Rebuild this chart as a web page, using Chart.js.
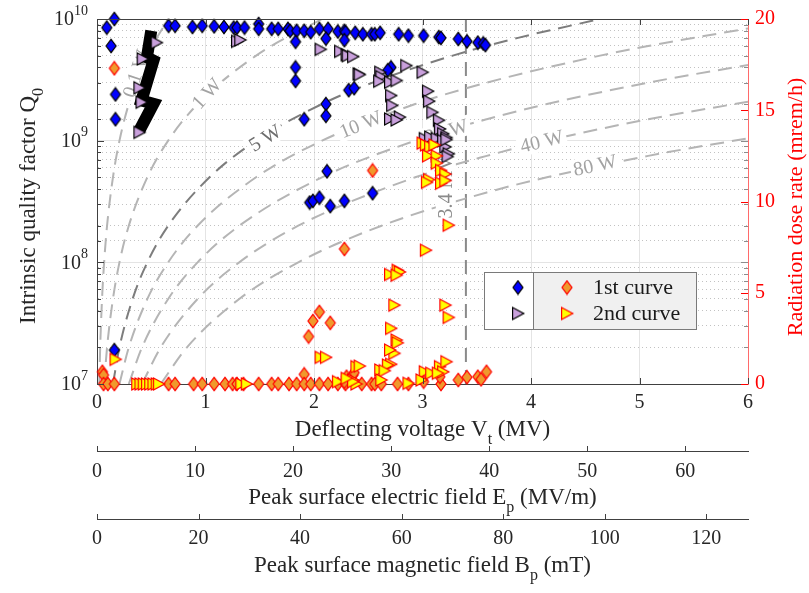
<!DOCTYPE html>
<html lang="en">
<head>
<meta charset="utf-8">
<title>Q0 and radiation vs deflecting voltage</title>
<script src="https://cdn.jsdelivr.net/npm/chart.js@4.4.1/dist/chart.umd.min.js"></script>
<style>
  html, body { margin: 0; padding: 0; background: #ffffff; }
  canvas { display: block; }
</style>
</head>
<body>
<canvas id="chart-q0" width="809" height="593"></canvas>
<script>
// values: [deflecting voltage (MV), Q0] or [MV, mrem/h]
const q0FirstCurve = [
  [0.09, 8.5e9], [0.16, 1.0e10], [0.13, 6.0e9], [0.17, 2.4e9], [0.17, 1.5e9], [0.16, 1.9e7],
  [0.66, 8.8e9], [0.72, 8.8e9], [0.88, 8.6e9], [0.97, 8.8e9], [1.08, 8.7e9], [1.17, 8.6e9],
  [1.26, 8.5e9], [1.29, 8.5e9], [1.36, 8.5e9], [1.49, 9.1e9], [1.49, 8.3e9], [1.61, 8.3e9],
  [1.67, 8.3e9], [1.76, 8.3e9], [1.78, 8.0e9], [1.84, 8.0e9], [1.91, 8.0e9], [1.97, 7.8e9],
  [2.05, 8.3e9], [2.13, 8.3e9], [2.22, 7.9e9], [2.28, 8.0e9], [2.29, 7.8e9], [2.38, 7.7e9],
  [2.45, 7.5e9], [2.53, 7.5e9], [2.56, 7.5e9], [2.61, 7.7e9], [2.78, 7.5e9], [2.87, 7.3e9],
  [3.01, 7.3e9], [3.15, 7.1e9], [3.17, 7.0e9], [3.33, 6.85e9], [3.41, 6.55e9], [3.51, 6.4e9],
  [3.56, 6.3e9], [3.58, 6.1e9],
  [1.83, 6.5e9], [2.11, 6.9e9], [2.28, 6.7e9], [1.83, 4.0e9], [1.83, 3.1e9], [2.32, 2.6e9],
  [2.37, 2.7e9], [2.71, 4.0e9], [2.68, 3.8e9], [2.11, 2.0e9], [2.11, 1.6e9], [1.91, 1.5e9],
  [2.12, 5.6e8], [1.96, 3.1e8], [1.99, 3.2e8], [2.05, 3.4e8], [2.15, 2.9e8], [2.28, 3.2e8],
  [2.54, 3.7e8]
];

const q0SecondCurve = [
  [0.39, 1.17e9], [0.41, 2.07e9], [0.39, 2.72e9], [0.42, 4.7e9], [0.55, 6.4e9],
  [1.29, 6.55e9], [1.32, 6.73e9], [2.06, 5.63e9], [2.24, 5.42e9], [2.30, 5.09e9], [2.31, 5.0e9],
  [2.36, 4.91e9], [2.41, 3.54e9], [2.42, 3.49e9], [2.61, 3.65e9], [2.62, 3.36e9], [2.60, 3.08e9],
  [2.70, 3.02e9], [2.76, 3.12e9], [2.85, 4.14e9], [3.00, 3.65e9], [3.05, 2.55e9], [3.06, 2.11e9],
  [2.71, 2.35e9], [2.72, 1.95e9], [2.70, 1.51e9], [2.79, 1.56e9], [2.76, 1.48e9], [3.09, 1.71e9],
  [3.15, 1.47e9], [3.16, 1.25e9], [3.19, 1.14e9], [3.22, 1.06e9], [3.21, 8.9e8], [3.24, 7.8e8],
  [3.23, 7.4e8], [3.02, 1.04e9], [3.07, 1.07e9], [3.13, 1.04e9], [3.19, 1.0e9], [3.22, 1.02e9]
];

// dense run of first-curve points near 0.4-0.5 MV (reads as a thick black band)
const q0DenseRun = [[0.39, 1.21e9], [0.52, 2.01e9], [0.41, 2.14e9], [0.52, 4.55e9], [0.46, 4.84e9], [0.50, 8.0e9]];

const doseFirstCurve = [
  [0.16, 17.3], [2.54, 11.7], [2.28, 7.4], [2.05, 3.95], [1.99, 3.45], [2.15, 3.35], [1.95, 2.6],
  [1.91, 0.53], [0.05, 0.67], [0.06, 0.49],
  [0.06, 0], [0.10, 0], [0.16, 0], [0.66, 0], [0.72, 0], [0.89, 0], [0.97, 0], [1.08, 0], [1.18, 0],
  [1.25, 0], [1.29, 0], [1.35, 0], [1.49, 0], [1.61, 0], [1.67, 0], [1.77, 0], [1.84, 0], [1.91, 0],
  [1.97, 0], [2.05, 0], [2.13, 0], [2.22, 0], [2.29, 0], [2.44, 0], [2.53, 0], [2.56, 0], [2.62, 0],
  [2.77, 0], [2.87, 0], [3.17, 0],
  [2.30, 0.40], [2.36, 0.49], [2.37, 0.62], [2.28, 0.13], [3.01, 0.13], [3.16, 0.40], [3.33, 0.22],
  [3.41, 0.37], [3.51, 0.40], [3.59, 0.67], [3.54, 0.26]
];

const doseSecondCurve = [
  [0.17, 1.35], [2.06, 1.46], [2.11, 1.46],
  [0.37, 0], [0.40, 0], [0.43, 0], [0.46, 0], [0.49, 0], [0.52, 0], [0.55, 0], [0.57, 0],
  [1.33, 0], [1.38, 0], [2.22, 0.13], [2.36, 0.22], [2.39, 0.95], [2.39, 0],
  [3.00, 13.2], [3.03, 13.1], [3.07, 13.0], [3.11, 13.1], [3.05, 12.5], [3.13, 12.5], [3.13, 12.1],
  [3.17, 11.7], [3.21, 11.5], [3.06, 11.2], [3.17, 11.0], [3.21, 11.15], [3.04, 11.05], [3.24, 8.7],
  [3.03, 7.33], [2.70, 6.0], [2.77, 6.23], [2.79, 6.14], [2.76, 5.96], [2.74, 4.32], [3.21, 4.32],
  [3.24, 3.65], [2.71, 3.05], [2.76, 2.41], [2.77, 2.26], [2.74, 1.68], [2.70, 1.86], [2.71, 1.08],
  [2.68, 1.04], [2.61, 0.77], [2.65, 0.73], [2.42, 0.98], [3.16, 0.95], [3.22, 1.22], [3.19, 0.67],
  [3.02, 0.67], [3.08, 0.59], [3.14, 0.59], [2.36, 0.13], [2.62, 0.22], [2.87, 0.04], [2.99, 0.22],
  [2.30, 0.31]
];

// constant dissipated power curves
const power01W = [[0.0207, 1e7], [0.0293, 2e7], [0.0464, 5e7], [0.0656, 1e8], [0.0927, 2e8], [0.147, 5e8], [0.207, 1e9], [0.293, 2e9], [0.464, 5e9], [0.656, 1e10]];
const power1W = [[0.0656, 1e7], [0.0927, 2e7], [0.147, 5e7], [0.207, 1e8], [0.293, 2e8], [0.464, 5e8], [0.656, 1e9], [0.927, 2e9], [1.467, 5e9], [2.074, 1e10]];
const power5W = [[0.147, 1e7], [0.207, 2e7], [0.328, 5e7], [0.464, 1e8], [0.656, 2e8], [1.037, 5e8], [1.466, 1e9], [2.074, 2e9], [2.54, 3e9], [3.279, 5e9], [3.88, 7e9], [4.637, 1e10]];
const power10W = [[0.207, 1e7], [0.293, 2e7], [0.464, 5e7], [0.656, 1e8], [0.927, 2e8], [1.466, 5e8], [2.074, 1e9], [2.933, 2e9], [3.592, 3e9], [4.637, 5e9], [5.08, 6e9], [6, 8.37e9]];
const power20W = [[0.293, 1e7], [0.415, 2e7], [0.656, 5e7], [0.927, 1e8], [1.312, 2e8], [2.074, 5e8], [2.933, 1e9], [3.592, 1.5e9], [4.147, 2e9], [5.08, 3e9], [6, 4.19e9]];
const power40W = [[0.415, 1e7], [0.587, 2e7], [0.927, 5e7], [1.311, 1e8], [1.855, 2e8], [2.933, 5e8], [3.592, 7.5e8], [4.147, 1e9], [5.08, 1.5e9], [6, 2.09e9]];
const power80W = [[0.587, 1e7], [0.829, 2e7], [1.311, 5e7], [1.855, 1e8], [2.623, 2e8], [3.592, 3.75e8], [4.147, 5e8], [5.08, 7.5e8], [6, 1.047e9]];
const quenchLimit = [[3.4, 1e7], [3.4, 1e10]];

const vtTicks = [0, 1, 2, 3, 4, 5, 6];
const epTicks = [0, 10, 20, 30, 40, 50, 60];
const bpTicks = [0, 20, 40, 60, 80, 100, 120];
const doseTicks = [0, 5, 10, 15, 20];
const vtMax = 6;
const epMax = 66.4;   // Ep at 6 MV
const bpMax = 128.2;  // Bp at 6 MV
const doseMax = 20;

const FONT = "'Liberation Serif', 'Times New Roman', Times, serif";
const INK = '#262626';

Chart.defaults.font.family = FONT;
Chart.defaults.font.size = 20;
Chart.defaults.color = INK;

const curveNotes = [
  { text: '0.1 W', v: 0.36, q: 3.56e9, angle: -72, color: '#a3a3a3' },
  { text: '1 W', v: 1.01, q: 2.44e9, angle: -48, color: '#a3a3a3' },
  { text: '5 W', v: 1.55, q: 1.05e9, angle: -32, color: '#6e6e6e' },
  { text: '10 W', v: 2.43, q: 1.36e9, angle: -22, color: '#a3a3a3' },
  { text: '20 W', v: 3.22, q: 1.19e9, angle: -17, color: '#a3a3a3' },
  { text: '40 W', v: 4.10, q: 9.85e8, angle: -14, color: '#a3a3a3' },
  { text: '80 W', v: 4.59, q: 6.27e8, angle: -12, color: '#a3a3a3' },
  { text: '3.4 MV', v: 3.215, q: 4.13e8, angle: -90, color: '#8a8a8a' }
];

function isDecade(v) {
  const l = Math.log10(v);
  return Math.abs(l - Math.round(l)) < 1e-6;
}

function makeMarker(shape, fill, edge) {
  const c = document.createElement('canvas');
  c.width = 16;
  c.height = 16;
  const g = c.getContext('2d');
  g.beginPath();
  if (shape === 'diamond') {
    g.moveTo(8, 1.3); g.lineTo(13, 8); g.lineTo(8, 14.7); g.lineTo(3, 8);
  } else {
    g.moveTo(2.6, 2); g.lineTo(13.8, 8); g.lineTo(2.6, 14);
  }
  g.closePath();
  g.fillStyle = fill;
  g.fill();
  g.lineWidth = 1.2;
  g.strokeStyle = edge;
  g.stroke();
  return c;
}

const markers = {
  blue: makeMarker('diamond', '#0000ff', '#000000'),
  lilac: makeMarker('triangle', '#c9a0dc', '#000000'),
  orange: makeMarker('diamond', '#f0992c', '#ff0000'),
  yellow: makeMarker('triangle', '#ffff00', '#ff0000')
};

// text with sub/superscript parts, drawn on the chart canvas
function richText(ctx, parts, size, x, y, angle, color, align) {
  const small = Math.round(size * 0.7);
  ctx.save();
  ctx.translate(x, y);
  ctx.rotate(angle);
  ctx.fillStyle = color;
  ctx.textBaseline = 'middle';
  ctx.textAlign = 'left';
  const widths = parts.map((p) => {
    ctx.font = `${p.s ? small : size}px ${FONT}`;
    return ctx.measureText(p.t).width;
  });
  const total = widths.reduce((a, b) => a + b, 0);
  let cx = align === 'right' ? -total : align === 'left' ? 0 : -total / 2;
  parts.forEach((p, i) => {
    ctx.font = `${p.s ? small : size}px ${FONT}`;
    const dy = p.s === 'sub' ? size * 0.42 : p.s === 'sup' ? -size * 0.45 : 0;
    ctx.fillText(p.t, cx, dy);
    cx += widths[i];
  });
  ctx.restore();
}

function drawNotes(chart) {
  const { ctx, scales: { x, y } } = chart;
  ctx.save();
  ctx.font = `20px ${FONT}`;
  curveNotes.forEach((n) => {
    const px = x.getPixelForValue(n.v);
    const py = y.getPixelForValue(n.q);
    const w = ctx.measureText(n.text).width;
    ctx.save();
    ctx.translate(px, py);
    ctx.rotate(n.angle * Math.PI / 180);
    ctx.fillStyle = '#ffffff';
    ctx.fillRect(-w / 2 - 3, -10, w + 6, 20);
    ctx.fillStyle = n.color;
    ctx.textAlign = 'center';
    ctx.textBaseline = 'middle';
    ctx.fillText(n.text, 0, 1);
    ctx.restore();
  });
  ctx.restore();
}

function drawTickMarks(chart) {
  const { ctx, chartArea: a, scales } = chart;
  const px = (s, v) => Math.round(s.getPixelForValue(v)) + 0.5;
  ctx.save();
  ctx.lineWidth = 1;
  ctx.strokeStyle = '#404040';
  ctx.beginPath();
  ctx.moveTo(a.left, a.top + 0.5);
  ctx.lineTo(a.right, a.top + 0.5);
  vtTicks.forEach((v) => {
    const p = px(scales.x, v);
    ctx.moveTo(p, a.bottom); ctx.lineTo(p, a.bottom - 6);
    ctx.moveTo(p, a.top); ctx.lineTo(p, a.top + 6);
  });
  scales.y.ticks.forEach((t) => {
    const p = px(scales.y, t.value);
    ctx.moveTo(a.left, p); ctx.lineTo(a.left + (isDecade(t.value) ? 7 : 4), p);
  });
  [[scales.x2, epTicks], [scales.x3, bpTicks]].forEach(([s, ticks]) => {
    ticks.forEach((v) => {
      const p = px(s, v);
      ctx.moveTo(p, s.top); ctx.lineTo(p, s.top - 5);
    });
  });
  ctx.stroke();

  ctx.strokeStyle = '#8c8c8c';
  ctx.beginPath();
  scales.y.ticks.forEach((t) => {
    const p = px(scales.y, t.value);
    ctx.moveTo(a.right, p); ctx.lineTo(a.right - (isDecade(t.value) ? 7 : 4), p);
  });
  ctx.stroke();

  ctx.strokeStyle = '#ff0000';
  ctx.beginPath();
  doseTicks.forEach((v) => {
    const p = px(scales.y2, v);
    ctx.moveTo(a.right, p); ctx.lineTo(a.right - 7, p);
  });
  ctx.stroke();
  ctx.restore();
}

function drawAxisText(chart) {
  const { ctx, chartArea: a, scales } = chart;
  const mid = (a.left + a.right) / 2;

  scales.y.ticks.filter((t) => isDecade(t.value)).forEach((t) => {
    const exp = String(Math.round(Math.log10(t.value)));
    richText(ctx, [{ t: '10' }, { t: exp, s: 'sup' }], 20, a.left - 9, scales.y.getPixelForValue(t.value) + 1, 0, INK, 'right');
  });

  richText(ctx, [{ t: 'Deflecting voltage V' }, { t: 't', s: 'sub' }, { t: ' (MV)' }], 23, mid, scales.x.top + 46, 0, INK);
  richText(ctx, [{ t: 'Peak surface electric field E' }, { t: 'p', s: 'sub' }, { t: ' (MV/m)' }], 23, mid, scales.x2.top + 47, 0, INK);
  richText(ctx, [{ t: 'Peak surface magnetic field B' }, { t: 'p', s: 'sub' }, { t: ' (mT)' }], 23, mid, scales.x3.top + 47, 0, INK);
  richText(ctx, [{ t: 'Intrinsic quality factor Q' }, { t: '0', s: 'sub' }], 23, 29, 206, -Math.PI / 2, INK);
  richText(ctx, [{ t: 'Radiation dose rate (mrem/h)' }], 22, 796, 207, -Math.PI / 2, '#ff0000');
}

function drawLegend(chart) {
  const { ctx } = chart;
  const sets = chart.data.datasets;
  const q0Sets = sets.filter((d) => d.group === 'q0');
  const doseSets = sets.filter((d) => d.group === 'dose');
  const bx = 484.5, by = 272.5, bw = 212, bh = 57, split = 49;
  ctx.save();
  ctx.fillStyle = '#ffffff';
  ctx.fillRect(bx, by, split, bh);
  ctx.fillStyle = '#f0f0f0';
  ctx.fillRect(bx + split, by, bw - split, bh);
  ctx.strokeStyle = '#7a7a7a';
  ctx.lineWidth = 1;
  ctx.strokeRect(bx, by, bw, bh);
  ctx.beginPath();
  ctx.moveTo(bx + split, by);
  ctx.lineTo(bx + split, by + bh);
  ctx.stroke();
  const rows = [by + 15, by + 41];
  q0Sets.forEach((d, i) => ctx.drawImage(d.pointStyle, 510, rows[i] - 8));
  doseSets.forEach((d, i) => {
    ctx.drawImage(d.pointStyle, 559, rows[i] - 8);
    ctx.font = `22px ${FONT}`;
    ctx.fillStyle = '#1a1a1a';
    ctx.textBaseline = 'middle';
    ctx.fillText(d.label, 593, rows[i] + 1);
  });
  ctx.restore();
}

let notesDrawn = false;
const decoPlugin = {
  id: 'deco',
  beforeDatasetsDraw() {
    notesDrawn = false;
  },
  beforeDatasetDraw(chart, args) {
    if (!notesDrawn && chart.data.datasets[args.index].order < 10) {
      drawNotes(chart);
      notesDrawn = true;
    }
  },
  afterDraw(chart) {
    drawTickMarks(chart);
    drawAxisText(chart);
    drawLegend(chart);
  }
};

const powerCurves = [
  { label: '0.1 W', points: power01W, dark: false },
  { label: '1 W', points: power1W, dark: false },
  { label: '5 W', points: power5W, dark: true },
  { label: '10 W', points: power10W, dark: false },
  { label: '20 W', points: power20W, dark: false },
  { label: '40 W', points: power40W, dark: false },
  { label: '80 W', points: power80W, dark: false }
];

const datasets = [
  ...powerCurves.map((c) => ({
    label: c.label,
    data: c.points,
    yAxisID: 'y',
    showLine: true,
    pointRadius: 0,
    borderColor: c.dark ? '#7d7d7d' : '#b5b5b5',
    borderWidth: 2,
    borderDash: [14, 8],
    cubicInterpolationMode: 'monotone',
    order: 20
  })),
  {
    label: '3.4 MV',
    data: quenchLimit,
    yAxisID: 'y',
    showLine: true,
    pointRadius: 0,
    borderColor: '#8a8a8a',
    borderWidth: 2,
    borderDash: [14, 8],
    order: 20
  },
  {
    label: 'dense run',
    data: q0DenseRun,
    yAxisID: 'y',
    showLine: true,
    pointRadius: 0,
    borderColor: '#000000',
    borderWidth: 12,
    order: 5
  },
  { label: '1st curve', group: 'q0', data: q0FirstCurve, yAxisID: 'y', pointStyle: markers.blue, pointRadius: 7, clip: false, order: 4 },
  { label: '2nd curve', group: 'q0', data: q0SecondCurve, yAxisID: 'y', pointStyle: markers.lilac, pointRadius: 7, clip: false, order: 3 },
  { label: '1st curve', group: 'dose', data: doseFirstCurve, yAxisID: 'y2', pointStyle: markers.orange, pointRadius: 7, clip: false, order: 2 },
  { label: '2nd curve', group: 'dose', data: doseSecondCurve, yAxisID: 'y2', pointStyle: markers.yellow, pointRadius: 7, clip: false, order: 1 }
];

const bottomAxis = (max, ticks, weight, height, padding) => ({
  type: 'linear',
  position: 'bottom',
  min: 0,
  max,
  weight,
  afterBuildTicks: (s) => { s.ticks = ticks.map((v) => ({ value: v })); },
  afterFit: (s) => { s.height = height; },
  ticks: { color: INK, padding, maxRotation: 0, font: { size: 20 } },
  grid: { display: false, drawTicks: false, tickLength: 0 },
  border: { display: true, color: '#404040', width: 1 }
});

new Chart(document.getElementById('chart-q0'), {
  type: 'scatter',
  data: { datasets },
  options: {
    responsive: false,
    animation: false,
    events: [],
    layout: { padding: { top: 18, left: 0, right: 0, bottom: 0 } },
    plugins: {
      legend: { display: false },
      tooltip: { enabled: false }
    },
    scales: {
      x: {
        ...bottomAxis(vtMax, vtTicks, 0, 67, 7),
        grid: { display: true, color: '#e4e4e4', drawTicks: false }
      },
      x2: bottomAxis(epMax, epTicks, 1, 68, 9),
      x3: bottomAxis(bpMax, bpTicks, 2, 74, 8),
      y: {
        type: 'logarithmic',
        position: 'left',
        min: 1e7,
        max: 1e10,
        afterFit: (s) => { s.width = 97; },
        ticks: { display: false },
        grid: {
          color: (c) => (c.tick && isDecade(c.tick.value) ? '#e4e4e4' : '#c2c2c2'),
          drawTicks: false
        },
        border: {
          color: '#404040',
          dash: (c) => (c.tick && !isDecade(c.tick.value) ? [1, 3] : [])
        }
      },
      y2: {
        type: 'linear',
        position: 'right',
        min: 0,
        max: doseMax,
        afterBuildTicks: (s) => { s.ticks = doseTicks.map((v) => ({ value: v })); },
        afterFit: (s) => { s.width = 61; },
        ticks: { color: '#ff0000', padding: 7, font: { size: 20 } },
        grid: { display: false, drawTicks: false },
        border: { display: true, color: '#ff6a6a' }
      }
    }
  },
  plugins: [decoPlugin]
});
</script>
</body>
</html>
